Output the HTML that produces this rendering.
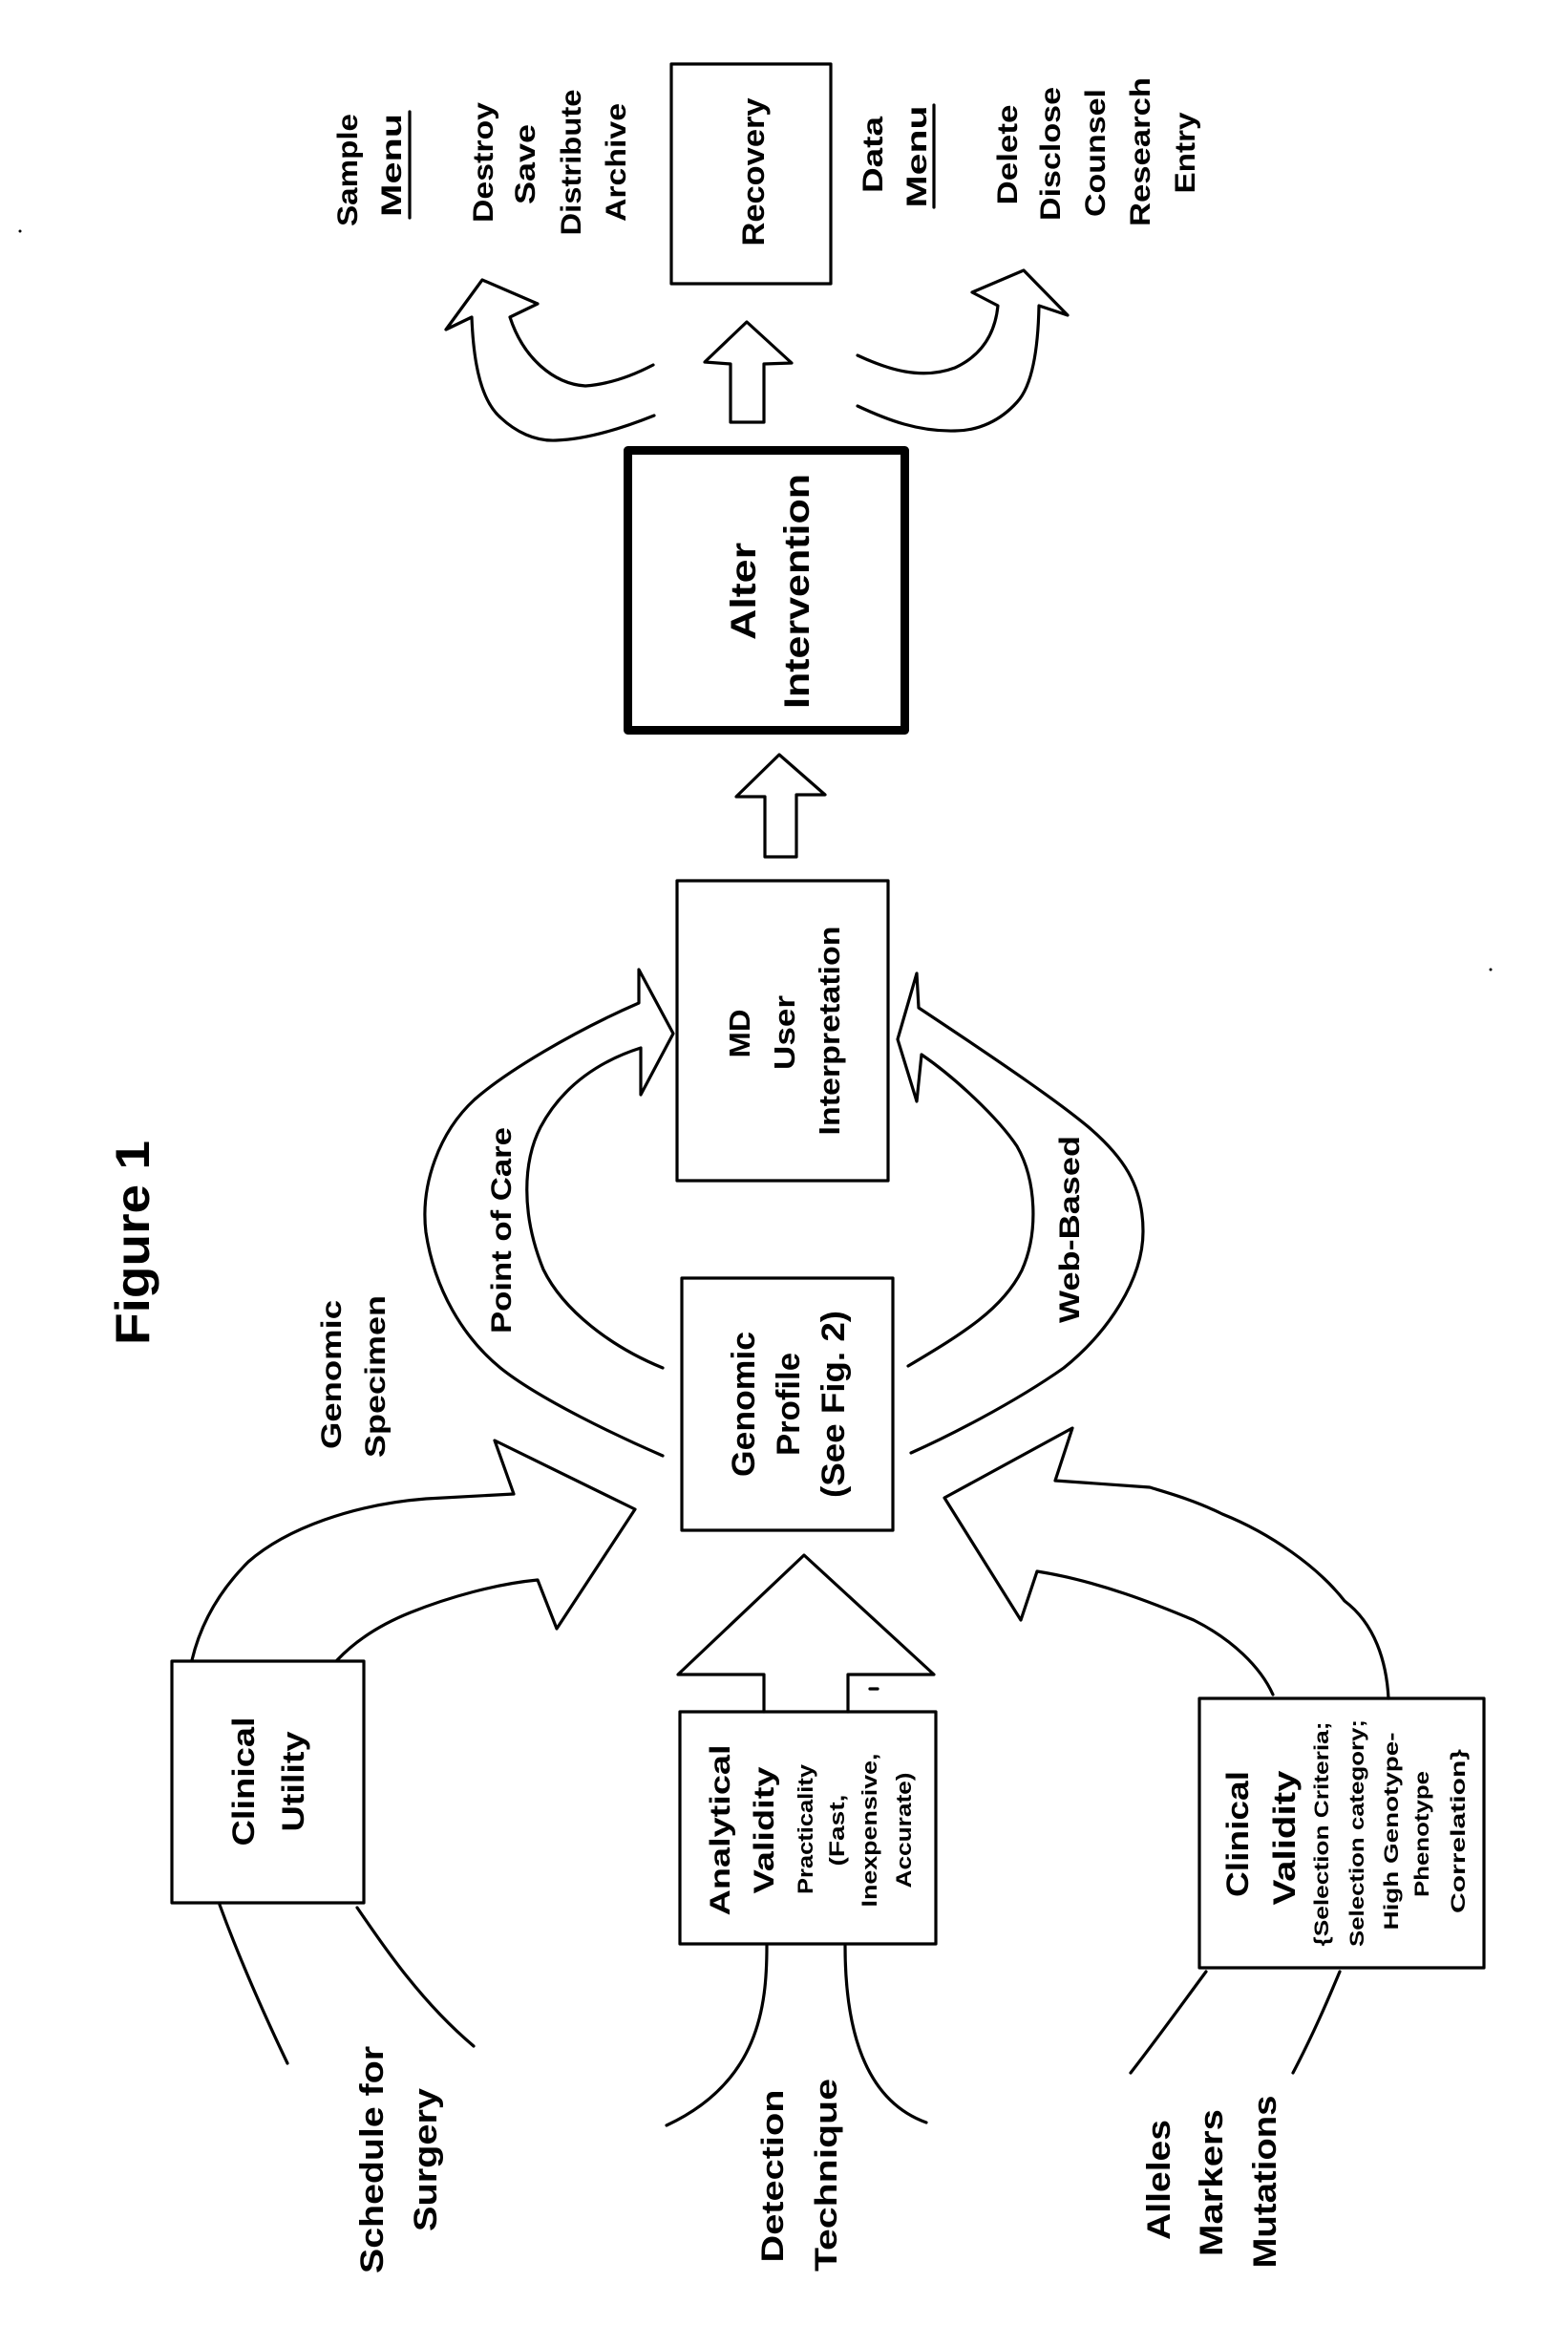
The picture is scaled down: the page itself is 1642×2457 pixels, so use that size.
<!DOCTYPE html>
<html><head><meta charset="utf-8"><style>
html,body{margin:0;padding:0;background:#fff;}
svg{display:block;}
text{font-family:"Liberation Sans",Arial,sans-serif;font-weight:bold;fill:#000;}
</style></head><body>
<svg width="1642" height="2457" viewBox="0 0 1642 2457" xmlns="http://www.w3.org/2000/svg">
<g fill="none" stroke="#000" stroke-width="3.2" stroke-linejoin="round" stroke-linecap="round">
<!-- boxes -->
<rect x="703" y="67" width="167" height="230"/>
<rect x="657.5" y="471.5" width="290" height="293" stroke-width="9"/>
<rect x="709" y="922" width="221" height="314"/>
<rect x="714" y="1338" width="221" height="264"/>
<rect x="180" y="1739" width="201" height="253"/>
<rect x="712" y="1792" width="268" height="243"/>
<rect x="1256" y="1778" width="298" height="282"/>
<!-- straight arrows -->
<polyline points="765,442 765,381 738,379 782,337 829,380 800,381 800,442 765,442"/>
<polyline points="801,897 801,834 771,834 816,790 864,832 834,832 834,897 801,897"/>
<polyline points="800,1792 800,1753 710,1753 842,1628 978,1753 888,1753 888,1792"/>
<line x1="911" y1="1768" x2="919" y2="1768"/>
<!-- top-left curved arrow -->
<path d="M684,382 C665,392 640,402 613,404 C580,402 548,375 534,332 L563,318 L505,293 L467,345 L494,332 C496,385 505,420 524,437 C540,452 560,462 582,461 C615,460 655,447 685,435"/>
<!-- top-right curved arrow -->
<path d="M898,372 C930,387 965,398 1000,385 C1028,372 1042,350 1045,320 L1018,306 L1072,283 L1118,330 L1088,320 C1087,370 1080,405 1065,421 C1048,440 1025,451 1000,451 C962,452 930,440 898,425"/>
<!-- Point of Care arrow -->
<path d="M694,1524 C650,1505 565,1465 524,1432 C485,1400 455,1350 446,1290 C440,1240 460,1185 497,1151 C530,1122 600,1080 669,1050 L669,1015 L705,1082 L671,1146 L671,1097 C630,1110 590,1135 566,1180 C548,1215 545,1270 569,1329 C590,1372 640,1410 694,1432"/>
<!-- Web-Based arrow -->
<path d="M954,1521 C990,1505 1060,1470 1114,1432 C1160,1395 1197,1340 1197,1289 C1197,1240 1175,1210 1140,1180 C1110,1155 1060,1120 962,1055 L960,1019 L940,1088 L960,1153 L965,1104 C1000,1128 1045,1170 1065,1200 C1085,1235 1088,1290 1070,1330 C1050,1370 1010,1395 951,1430"/>
<!-- Genomic specimen arrow -->
<path d="M201,1738 C210,1700 230,1665 260,1635 C300,1600 370,1575 446,1569 L538,1564 L518,1508 L665,1580 L583,1705 L563,1654 C520,1658 470,1672 430,1688 C395,1702 370,1720 353,1738"/>
<!-- right bottom arrow -->
<path d="M1454,1778 C1452,1740 1440,1700 1408,1676 C1380,1640 1330,1605 1280,1585 C1250,1570 1220,1562 1204,1557 L1105,1550 L1123,1495 L989,1568 L1069,1696 L1086,1645 C1150,1655 1212,1680 1250,1696 C1290,1716 1320,1745 1333,1774"/>
<!-- input lines -->
<path d="M230,1994 C245,2035 270,2095 301,2160"/>
<path d="M374,1997 C400,2035 440,2095 496,2142"/>
<path d="M803,2037 C803,2100 795,2180 698,2225"/>
<path d="M885,2037 C885,2100 895,2195 970,2222"/>
<path d="M1263,2064 C1240,2095 1215,2130 1184,2170"/>
<path d="M1403,2064 C1390,2095 1375,2130 1354,2170"/>
<!-- underlines -->
<line x1="429" y1="117" x2="429" y2="228"/>
<line x1="978" y1="110" x2="978" y2="217"/>
</g>
<circle cx="21" cy="242" r="1.5"/>
<circle cx="1561" cy="1015" r="1.5"/>
<g text-anchor="middle">
<text font-size="30" transform="translate(374,178) rotate(-90)" textLength="118" lengthAdjust="spacingAndGlyphs">Sample</text>
<text font-size="30" transform="translate(420,173) rotate(-90)" textLength="108" lengthAdjust="spacingAndGlyphs">Menu</text>
<text font-size="30" transform="translate(516,170) rotate(-90)" textLength="126" lengthAdjust="spacingAndGlyphs">Destroy</text>
<text font-size="30" transform="translate(560,172) rotate(-90)" textLength="84" lengthAdjust="spacingAndGlyphs">Save</text>
<text font-size="30" transform="translate(608,170) rotate(-90)" textLength="153" lengthAdjust="spacingAndGlyphs">Distribute</text>
<text font-size="30" transform="translate(655,170) rotate(-90)" textLength="124" lengthAdjust="spacingAndGlyphs">Archive</text>
<text font-size="32" transform="translate(800,180) rotate(-90)" textLength="155" lengthAdjust="spacingAndGlyphs">Recovery</text>
<text font-size="30" transform="translate(924,162) rotate(-90)" textLength="80" lengthAdjust="spacingAndGlyphs">Data</text>
<text font-size="30" transform="translate(970,164) rotate(-90)" textLength="107" lengthAdjust="spacingAndGlyphs">Menu</text>
<text font-size="30" transform="translate(1065,162) rotate(-90)" textLength="105" lengthAdjust="spacingAndGlyphs">Delete</text>
<text font-size="30" transform="translate(1110,161) rotate(-90)" textLength="140" lengthAdjust="spacingAndGlyphs">Disclose</text>
<text font-size="30" transform="translate(1157,160) rotate(-90)" textLength="134" lengthAdjust="spacingAndGlyphs">Counsel</text>
<text font-size="30" transform="translate(1204,159) rotate(-90)" textLength="156" lengthAdjust="spacingAndGlyphs">Research</text>
<text font-size="30" transform="translate(1251,160) rotate(-90)" textLength="85" lengthAdjust="spacingAndGlyphs">Entry</text>
<text font-size="37" transform="translate(791,619) rotate(-90)" textLength="102" lengthAdjust="spacingAndGlyphs">Alter</text>
<text font-size="37" transform="translate(847,619) rotate(-90)" textLength="246" lengthAdjust="spacingAndGlyphs">Intervention</text>
<text font-size="31" transform="translate(785,1082) rotate(-90)" textLength="51" lengthAdjust="spacingAndGlyphs">MD</text>
<text font-size="31" transform="translate(832,1081) rotate(-90)" textLength="78" lengthAdjust="spacingAndGlyphs">User</text>
<text font-size="31" transform="translate(879,1079) rotate(-90)" textLength="219" lengthAdjust="spacingAndGlyphs">Interpretation</text>
<text font-size="34" transform="translate(790,1470) rotate(-90)" textLength="152" lengthAdjust="spacingAndGlyphs">Genomic</text>
<text font-size="34" transform="translate(837,1470) rotate(-90)" textLength="108" lengthAdjust="spacingAndGlyphs">Profile</text>
<text font-size="34" transform="translate(884,1470) rotate(-90)" textLength="196" lengthAdjust="spacingAndGlyphs">(See Fig. 2)</text>
<text font-size="30" transform="translate(535,1288) rotate(-90)" textLength="216" lengthAdjust="spacingAndGlyphs">Point of Care</text>
<text font-size="30" transform="translate(1130,1287) rotate(-90)" textLength="196" lengthAdjust="spacingAndGlyphs">Web-Based</text>
<text font-size="30" transform="translate(357,1439) rotate(-90)" textLength="156" lengthAdjust="spacingAndGlyphs">Genomic</text>
<text font-size="30" transform="translate(403,1441) rotate(-90)" textLength="170" lengthAdjust="spacingAndGlyphs">Specimen</text>
<text font-size="50" transform="translate(156,1301) rotate(-90)" textLength="214" lengthAdjust="spacingAndGlyphs">Figure 1</text>
<text font-size="32" transform="translate(266,1865) rotate(-90)" textLength="135" lengthAdjust="spacingAndGlyphs">Clinical</text>
<text font-size="32" transform="translate(318,1865) rotate(-90)" textLength="105" lengthAdjust="spacingAndGlyphs">Utility</text>
<text font-size="34" transform="translate(401,2261) rotate(-90)" textLength="238" lengthAdjust="spacingAndGlyphs">Schedule for</text>
<text font-size="34" transform="translate(457,2261) rotate(-90)" textLength="150" lengthAdjust="spacingAndGlyphs">Surgery</text>
<text font-size="30" transform="translate(764,1916) rotate(-90)" textLength="179" lengthAdjust="spacingAndGlyphs">Analytical</text>
<text font-size="30" transform="translate(810,1916) rotate(-90)" textLength="133" lengthAdjust="spacingAndGlyphs">Validity</text>
<text font-size="22" transform="translate(851,1915) rotate(-90)" textLength="136" lengthAdjust="spacingAndGlyphs">Practicality</text>
<text font-size="22" transform="translate(884,1916) rotate(-90)" textLength="75" lengthAdjust="spacingAndGlyphs">(Fast,</text>
<text font-size="22" transform="translate(918,1916) rotate(-90)" textLength="161" lengthAdjust="spacingAndGlyphs">Inexpensive,</text>
<text font-size="22" transform="translate(954,1916) rotate(-90)" textLength="121" lengthAdjust="spacingAndGlyphs">Accurate)</text>
<text font-size="32" transform="translate(820,2278) rotate(-90)" textLength="181" lengthAdjust="spacingAndGlyphs">Detection</text>
<text font-size="32" transform="translate(876,2277) rotate(-90)" textLength="202" lengthAdjust="spacingAndGlyphs">Technique</text>
<text font-size="32" transform="translate(1307,1920) rotate(-90)" textLength="132" lengthAdjust="spacingAndGlyphs">Clinical</text>
<text font-size="32" transform="translate(1356,1924) rotate(-90)" textLength="141" lengthAdjust="spacingAndGlyphs">Validity</text>
<text font-size="21" transform="translate(1391,1920) rotate(-90)" textLength="235" lengthAdjust="spacingAndGlyphs">{Selection Criteria;</text>
<text font-size="21" transform="translate(1428,1919) rotate(-90)" textLength="238" lengthAdjust="spacingAndGlyphs">Selection category;</text>
<text font-size="21" transform="translate(1464,1917) rotate(-90)" textLength="207" lengthAdjust="spacingAndGlyphs">High Genotype-</text>
<text font-size="21" transform="translate(1496,1920) rotate(-90)" textLength="132" lengthAdjust="spacingAndGlyphs">Phenotype</text>
<text font-size="21" transform="translate(1534,1917) rotate(-90)" textLength="172" lengthAdjust="spacingAndGlyphs">Correlation}</text>
<text font-size="34" transform="translate(1225,2282) rotate(-90)" textLength="126" lengthAdjust="spacingAndGlyphs">Alleles</text>
<text font-size="34" transform="translate(1280,2285) rotate(-90)" textLength="154" lengthAdjust="spacingAndGlyphs">Markers</text>
<text font-size="34" transform="translate(1336,2284) rotate(-90)" textLength="181" lengthAdjust="spacingAndGlyphs">Mutations</text>
</g>
</svg>
</body></html>
